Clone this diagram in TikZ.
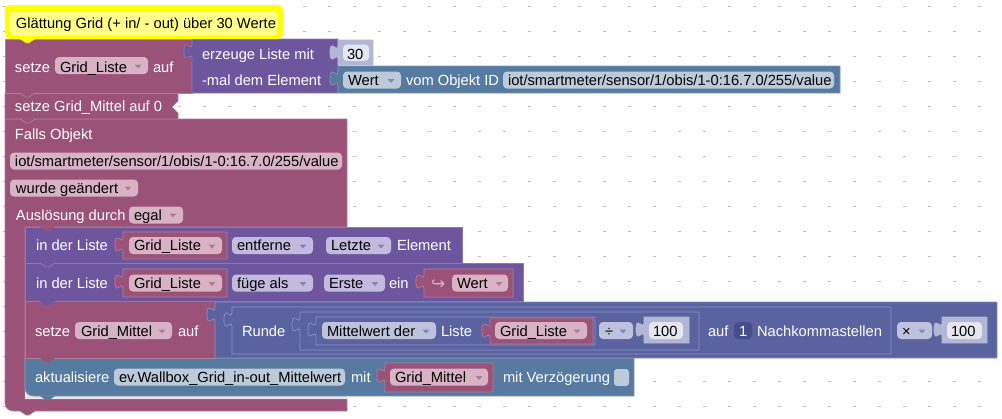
\documentclass[tikz,border=0pt]{standalone}
\usepackage{fontspec}
\setmainfont{Liberation Sans}
\newfontfamily\symfont{DejaVu Sans}
\definecolor{mar}{HTML}{9A5279}
\definecolor{marL}{HTML}{B27E98}
\definecolor{marF}{HTML}{D7B3C5}
\definecolor{marA}{HTML}{B47896}
\definecolor{pur}{HTML}{6E569F}
\definecolor{purL}{HTML}{8C78B9}
\definecolor{purF}{HTML}{C4BADD}
\definecolor{purA}{HTML}{8D7CBF}
\definecolor{stl}{HTML}{567AA0}
\definecolor{stlL}{HTML}{7C9ABA}
\definecolor{stlF}{HTML}{BCCAD9}
\definecolor{stlA}{HTML}{7894B3}
\definecolor{mth}{HTML}{5A629F}
\definecolor{mthL}{HTML}{8B93C6}
\definecolor{mthF}{HTML}{BEC2DF}
\definecolor{mthA}{HTML}{7E86BD}
\definecolor{mthD}{HTML}{454E8A}
\definecolor{shd}{HTML}{B3B7D6}
\definecolor{shdF}{HTML}{E5E6F0}
\definecolor{yelO}{HTML}{FFFF00}
\definecolor{yelI}{HTML}{FFFF8A}
\definecolor{dotc}{HTML}{BDBDBD}
\definecolor{gapc}{HTML}{EFE3E9}
% output block with puzzle tab: L T R B fill stroke
\newcommand\oblk[6]{\filldraw[fill=#5,draw=#6,line width=0.7] (#1,#2) -- (#3,#2) -- (#3,#4) -- (#1,#4) -- (#1,#2+20) .. controls (#1,#2+10) and (#1-8,#2+28) .. (#1-8,#2+12.5) .. controls (#1-8,#2-3) and (#1,#2+15) .. (#1,#2+5) -- cycle;}
% field box: x1 y1 x2 y2 colour
\newcommand\bfld[5]{\fill[#5,rounded corners=4] (#1,#2) rectangle (#3,#4);}
% dropdown arrow: x yc colour
\newcommand\ddarr[3]{\fill[#3] (#1-3.5,#2-1.5) -- (#1+3.5,#2-1.5) -- (#1,#2+2.5) -- cycle;}
% bottom tab: x y colour
\newcommand\btab[3]{\fill[#3] (#1,#2-0.5) -- (#1,#2) -- (#1+6,#2+4) -- (#1+9,#2+4) -- (#1+15,#2) -- (#1+15,#2-0.5) -- cycle;}
\newcommand\nline[3]{\draw[#3,line width=0.8] (#1,#2) -- (#1+6,#2+4) -- (#1+9,#2+4) -- (#1+15,#2);}
\begin{document}
\begin{tikzpicture}[x=1pt,y=-1pt,
  every node/.style={inner sep=0pt,outer sep=0pt,font=\fontsize{14.7}{17}\selectfont,anchor=base west},
  wt/.style={text=white}, bt/.style={text=black}]
\useasboundingbox (0,0) rectangle (1002,418);
\fill[white] (0,0) rectangle (1002,418);
% grid dots
\foreach \i in {0,...,39} \foreach \j in {0,...,16} {\fill[dotc] (3+25*\i,5.5+25*\j) rectangle (5.5+25*\i,6.5+25*\j);}

% ---------- trigger C block ----------
\filldraw[fill=mar,draw=marL,line width=0.7] (5,119) -- (347,119) -- (347,227) -- (25,227) -- (25,399) -- (347,399) -- (347,411) -- (35,411) -- (29,415) -- (26,415) -- (20,411) -- (13,411) .. controls (8.6,411) and (5,407.4) .. (5,403) -- cycle;
\fill[gapc] (25.4,385) rectangle (346.6,398.6);
\node[wt] (falls) at (15,139.5) {Falls Objekt};
\bfld{10}{152.5}{342}{169.5}{marF}
\node[bt] (oid1) at (15,166) {iot/smartmeter/sensor/1/obis/1-0:16.7.0/255/value};
\bfld{10}{179.5}{138}{196.5}{marF}
\node[bt] (wurde) at (16,193.5) {wurde geändert};
\ddarr{128}{188}{marA}
\node[wt] (ausl) at (16,220.5) {Auslösung durch};
\bfld{129}{206.5}{183}{223.5}{marF}
\node[bt] (egal) at (134,220.5) {egal};
\ddarr{173}{215}{marA}

% ---------- statement 4: aktualisiere ----------
\filldraw[fill=stl,draw=stlL,line width=0.7] (25,358) -- (634,358) -- (634,396) -- (33,396) .. controls (28.6,396) and (25,392.4) .. (25,388) -- cycle;
\btab{40}{396}{stl}
\node[wt] (akt) at (35,382.5) {aktualisiere};
\bfld{114}{368.5}{345}{385.5}{stlF}
\node[bt] (evw) at (119,382.5) {ev.Wallbox\_Grid\_in-out\_Mittelwert};
\node[wt] (mit1) at (351,382.5) {mit};
\oblk{385}{363}{493}{392}{mar}{marL}
\bfld{390}{368.5}{488}{385.5}{marF}
\node[bt] (gm2) at (395,382.5) {Grid\_Mittel};
\ddarr{479}{377.5}{marA}
\node[wt] (mitv) at (503,382.5) {mit Verzögerung};
\fill[stlF,rounded corners=3] (614,369) rectangle (629,386);

% ---------- statement 3: setze Grid_Mittel auf ----------
\filldraw[fill=mar,draw=marL,line width=0.7] (25,301) rectangle (215,358);
\btab{40}{358}{mar}
\node[wt] (setze3) at (35,336) {setze};
\bfld{75}{322}{172}{339}{marF}
\node[bt] (gm1) at (81,336) {Grid\_Mittel};
\ddarr{162}{331}{marA}
\node[wt] (auf3) at (178,336) {auf};

% math blocks
\oblk{215}{302}{997}{358}{mth}{mthL}
\oblk{232}{307}{891}{354}{mth}{mthL}
\node[wt] (runde) at (242,336) {Runde};
\oblk{300}{312}{699}{350}{mth}{mthL}
\oblk{316}{317}{595}{345}{mth}{mthL}
\bfld{322}{322}{436}{339}{mthF}
\node[bt] (mwd) at (327,336) {Mittelwert der};
\ddarr{426}{331}{mthA}
\node[wt] (liste3) at (441,336) {Liste};
\oblk{490}{318}{593}{344}{mar}{marL}
\bfld{495}{322}{587}{339}{marF}
\node[bt] (gl3) at (500,336) {Grid\_Liste};
\ddarr{577}{331}{marA}
\bfld{599}{322}{633}{339}{mthF}
\node[bt] (divs) at (605,336) {÷};
\ddarr{623}{331}{mthA}
\oblk{644}{317}{689}{343}{shd}{shd}
\bfld{649}{322}{683}{339}{shdF}
\node[bt] (h1) at (653,336) {100};
\node[wt] (auf4) at (708,336) {auf};
\bfld{734}{322}{752}{339}{mthD}
\node[wt] (one) at (739,336) {1};
\node[wt] (nks) at (757,336) {Nachkommastellen};
\bfld{897}{322}{932}{339}{mthF}
\node[bt] (mul) at (902,336) {×};
\ddarr{922}{331}{mthA}
\oblk{942}{317}{987}{343}{shd}{shd}
\bfld{947}{322}{982}{339}{shdF}
\node[bt] (h2) at (951,336) {100};

% ---------- statement 2 ----------
\filldraw[fill=pur,draw=purL,line width=0.7] (25,263) rectangle (523,301);
\btab{40}{301}{pur}
\node[wt] (idl2) at (36,288.5) {in der Liste};
\oblk{123}{269}{227}{297}{mar}{marL}
\bfld{129}{274.5}{222}{291.5}{marF}
\node[bt] (gl2) at (134,288.5) {Grid\_Liste};
\ddarr{212}{283.5}{marA}
\bfld{232}{274.5}{313}{291.5}{purF}
\node[bt] (fuege) at (237,288.5) {füge als};
\ddarr{303}{283.5}{purA}
\bfld{324}{274.5}{385}{291.5}{purF}
\node[bt] (erste) at (329,288.5) {Erste};
\ddarr{375}{283.5}{purA}
\node[wt] (ein) at (389,288.5) {ein};
\oblk{424}{269}{513}{297}{mar}{marL}
\node[text=marF] (hook) at (431,289) {\symfont\fontsize{17}{19}\selectfont ↪};
\bfld{452}{274.5}{508}{291.5}{marF}
\node[bt] (wert2) at (457,288.5) {Wert};
\ddarr{499}{283.5}{marA}

% ---------- statement 1 ----------
\filldraw[fill=pur,draw=purL,line width=0.7] (25,227) rectangle (462,263);
\btab{40}{263}{pur}
\nline{40}{263}{purL}
\node[wt] (idl1) at (36,250.5) {in der Liste};
\oblk{123}{232}{227}{259}{mar}{marL}
\bfld{129}{237}{222}{254}{marF}
\node[bt] (gl1) at (134,250.5) {Grid\_Liste};
\ddarr{212}{246}{marA}
\bfld{232}{237}{313}{254}{purF}
\node[bt] (entf) at (237,250.5) {entferne};
\ddarr{303}{246}{purA}
\bfld{326}{237}{391}{254}{purF}
\node[bt] (letzte) at (331,250.5) {Letzte};
\ddarr{381}{246}{purA}
\node[wt] (elem) at (397,250.5) {Element};
% trigger tab into statement 1
\btab{40}{227}{mar}

% ---------- collapsed setze Grid_Mittel auf 0 ----------
\filldraw[fill=mar,draw=marL,line width=0.7] (5,93) -- (178,93) -- (178,101) -- (172,107) -- (178,113) -- (178,119) -- (5,119) -- cycle;
\btab{20}{119}{mar}
\nline{20}{119}{marL}
\node[wt] (setze2) at (15,111.5) {setze Grid\_Mittel auf 0};

% ---------- setze Grid_Liste auf ----------
\filldraw[fill=mar,draw=marL,line width=0.7] (5,39) rectangle (192,93);
\btab{20}{93}{mar}
\nline{20}{93}{marL}
\node[wt] (setze1) at (15,72) {setze};
\bfld{55}{57}{148}{74}{marF}
\node[bt] (gl0) at (60,72) {Grid\_Liste};
\ddarr{138}{66}{marA}
\node[wt] (auf1) at (153,72) {auf};
% erzeuge Liste
\oblk{192}{39}{338}{93}{pur}{purL}
\node[wt] (erz) at (202,59.5) {erzeuge Liste mit};
\node[wt] (mal) at (202,85.5) {-mal dem Element};
\oblk{338}{40}{373}{65}{shd}{shd}
\bfld{343}{44.5}{369}{61}{shdF}
\node[bt] (thirty) at (347,59.5) {30};
\oblk{338}{66}{840}{93}{stl}{stlL}
\bfld{343}{71.5}{401}{88.5}{stlF}
\node[bt] (wert1) at (348,85.5) {Wert};
\ddarr{391}{80.5}{stlA}
\node[wt] (vom) at (406,85.5) {vom Objekt ID};
\bfld{503}{71.5}{834}{88.5}{stlF}
\node[bt] (oid2) at (508,85.5) {iot/smartmeter/sensor/1/obis/1-0:16.7.0/255/value};

% ---------- comment ----------
\fill[yelO,rounded corners=5] (5,5) rectangle (283,39);
\btab{20}{39}{yelO}
\fill[yelI,rounded corners=4] (10,11.5) rectangle (278,35.5);
\node[bt] (cmt) at (16,28.5) {Glättung Grid (+ in/ - out) über 30 Werte};
\end{tikzpicture}
\end{document}
